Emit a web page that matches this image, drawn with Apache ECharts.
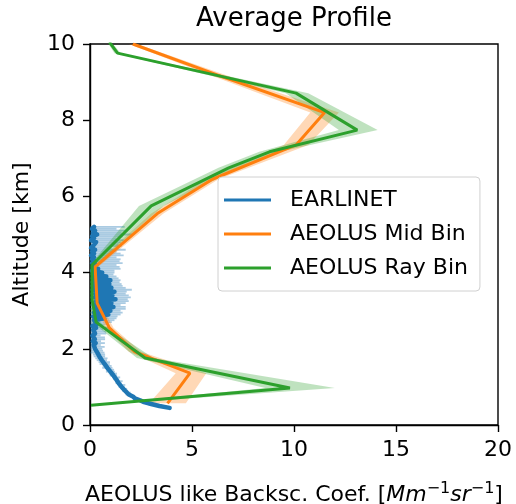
<!DOCTYPE html>
<html>
<head>
<meta charset="utf-8">
<script src="https://cdn.jsdelivr.net/npm/echarts@6/dist/echarts.min.js"></script>
<style>
  html, body { margin: 0; padding: 0; background: #fff; }
  #chart { width: 516px; height: 504px; }
</style>
</head>
<body>
<div id="chart"></div>
<script>
// EARLINET lidar profile: altitude [km], backscatter, horizontal error
const earlinetAlt = [
  0.45,0.50,0.55,0.60,0.65,0.70,0.75,0.80,0.85,0.90,0.95,1.00,1.05,1.10,1.15,1.20,
  1.25,1.30,1.35,1.40,1.45,1.50,1.55,1.60,1.65,1.70,1.75,1.80,1.85,1.90,1.95,
  2.00,2.05,2.10,2.15,2.20,2.25,2.30,2.35,2.40,2.45,2.50,2.55,2.60,2.65,2.70,
  2.75,2.80,2.85,2.90,2.95,3.00,3.05,3.10,3.15,3.20,3.25,3.30,3.35,3.40,3.45,
  3.50,3.55,3.60,3.65,3.70,3.75,3.80,3.85,3.90,3.95,4.00,4.05,
  4.10,4.15,4.20,4.25,4.30,4.35,4.40,4.45,4.50,4.55,4.60,4.65,4.70,4.75,4.80,
  4.85,4.90,4.95,5.00,5.05,5.10,5.15,5.20
];
const earlinetVal = [
  3.90,3.40,3.00,2.65,2.45,2.20,2.10,1.90,1.88,1.72,1.70,1.55,1.55,1.40,1.42,1.28,
  1.28,1.15,1.12,1.00,0.98,0.85,0.84,0.72,0.70,0.58,0.56,0.46,0.44,0.36,0.34,
  0.25,0.32,0.18,0.28,0.14,0.24,0.28,0.12,0.25,0.33,0.16,0.30,0.12,0.35,0.42,
  0.20,0.70,0.15,0.90,0.20,1.00,0.25,1.15,0.20,1.05,0.30,1.25,0.20,1.10,0.25,
  1.20,0.15,1.05,0.20,0.95,0.15,1.00,0.20,0.80,0.15,0.60,0.10,
  0.40,0.15,0.30,0.10,0.25,0.10,0.20,0.05,0.20,0.10,0.25,0.05,0.15,0.10,0.30,
  0.05,0.20,0.10,0.35,0.15,0.25,0.10,0.20
];
const earlinetErr = [
  0.10,0.10,0.12,0.10,0.12,0.10,0.12,0.15,0.12,0.15,0.12,0.15,0.18,0.15,0.18,0.15,
  0.20,0.18,0.20,0.22,0.20,0.25,0.22,0.25,0.28,0.25,0.30,0.28,0.30,0.35,0.30,
  0.35,0.40,0.35,0.45,0.40,0.50,0.45,0.40,0.55,0.45,0.50,0.60,0.55,0.50,0.65,
  1.00,0.60,1.20,0.60,1.40,0.50,1.50,0.60,1.30,0.70,1.60,0.60,1.80,0.80,1.50,
  0.60,1.90,0.70,1.40,0.60,1.30,0.50,1.20,0.50,1.00,0.60,1.10,
  1.10,1.30,1.00,1.50,1.20,1.40,1.10,1.60,1.30,1.20,1.50,1.00,1.40,1.30,1.20,
  1.60,1.10,1.50,1.70,1.40,1.60,1.20,1.50
];

// AEOLUS Mid Bin profile with spread
const midAlt = [10.0, 9.1, 8.2, 7.35, 6.45, 5.55, 4.15, 3.2, 2.55, 1.92, 1.36, 0.57];
const midVal = [2.1, 6.7, 11.5, 10.1, 6.0, 3.3, 0.25, 0.35, 0.95, 2.2, 4.9, 3.8];
const midLo  = [1.9, 6.3, 10.8, 9.5, 5.7, 3.0, 0.1, 0.2, 0.75, 1.9, 4.2, 2.9];
const midHi  = [2.3, 7.1, 12.2, 10.7, 6.3, 3.6, 0.4, 0.5, 1.15, 2.5, 5.7, 4.7];

// AEOLUS Ray Bin profile with spread
const rayAlt = [10.05, 9.76, 8.71, 7.74, 7.17, 6.75, 5.75, 4.2, 3.3, 2.7, 1.76, 0.97, 0.52];
const rayVal = [0.95, 1.35, 10.1, 13.1, 8.8, 6.8, 3.0, 0.1, 0.1, 0.3, 2.7, 9.8, 0.05];
const rayLo  = [0.85, 1.2, 9.6, 12.2, 8.3, 6.3, 2.4, 0.0, 0.0, 0.1, 2.3, 8.6, 0.0];
const rayHi  = [1.05, 1.5, 10.7, 14.1, 9.3, 7.3, 3.6, 0.3, 0.3, 0.5, 3.1, 12.0, 0.15];

const xTicks = [0, 5, 10, 15, 20];
const yTicks = [0, 2, 4, 6, 8, 10];

const C_BLUE = '#1f77b4', C_ORANGE = '#ff7f0e', C_GREEN = '#2ca02c';
const FONT = 'DejaVu Sans';

function pairs(xs, ys) { return xs.map((x, i) => [x, ys[i]]); }

// shaded spread between lo and hi along the altitude profile
function bandSeries(name, alt, lo, hi, fill) {
  return {
    name: name,
    type: 'custom',
    clip: true,
    silent: true,
    data: [[lo[0], alt[0]]],
    encode: { x: 0, y: 1 },
    renderItem: function (params, api) {
      const left = alt.map((a, i) => api.coord([lo[i], a]));
      const right = alt.map((a, i) => api.coord([hi[i], a])).reverse();
      return {
        type: 'polygon',
        shape: { points: left.concat(right) },
        style: { fill: fill, stroke: null }
      };
    }
  };
}

const errData = earlinetAlt.map((a, i) => [
  Math.max(0, earlinetVal[i] - earlinetErr[i]),
  earlinetVal[i] + earlinetErr[i],
  a
]);

const chart = echarts.init(document.getElementById('chart'), null, { renderer: 'canvas' });

chart.setOption({
  animation: false,
  backgroundColor: '#fff',
  textStyle: { fontFamily: FONT },
  grid: {
    left: 90, top: 44, width: 408, height: 381,
    containLabel: false, outerBoundsMode: 'none',
    show: true, borderColor: '#000', borderWidth: 1.4, backgroundColor: 'transparent'
  },
  graphic: [{
    type: 'text', x: 294, y: 19,
    style: {
      text: 'Average Profile', fill: '#000', font: '26px "DejaVu Sans"',
      textAlign: 'center', textVerticalAlign: 'middle'
    }
  }],
  xAxis: {
    type: 'value', min: xTicks[0], max: xTicks[xTicks.length - 1], interval: 5,
    name: '{n|AEOLUS like Backsc. Coef. [}{i|Mm}{s|−1}{i|sr}{s|−1}{n|]}',
    nameLocation: 'middle', nameGap: 56,
    nameTextStyle: {
      rich: {
        n: { fontSize: 22, color: '#000', fontFamily: FONT, lineHeight: 28 },
        i: { fontSize: 22, color: '#000', fontFamily: FONT, fontStyle: 'italic', lineHeight: 28 },
        s: { fontSize: 16, color: '#000', fontFamily: FONT, verticalAlign: 'top', lineHeight: 28, padding: [0, 0, 10, 0] }
      }
    },
    axisLine: { show: true, lineStyle: { color: '#000', width: 1.4 } },
    axisTick: { show: true, length: 7, lineStyle: { color: '#000', width: 1.4 } },
    axisLabel: { fontSize: 22, color: '#000', margin: 14, fontFamily: FONT },
    splitLine: { show: false }
  },
  yAxis: {
    type: 'value', min: yTicks[0], max: yTicks[yTicks.length - 1], interval: 2,
    name: 'Altitude [km]', nameLocation: 'middle', nameGap: 57, nameRotate: 90,
    nameTextStyle: { fontSize: 22, color: '#000', fontFamily: FONT },
    axisLine: { show: true, lineStyle: { color: '#000', width: 1.4 } },
    axisTick: { show: true, length: 7, lineStyle: { color: '#000', width: 1.4 } },
    axisLabel: { fontSize: 22, color: '#000', margin: 15, fontFamily: FONT },
    splitLine: { show: false }
  },
  legend: {
    orient: 'vertical', left: 218, top: 177,
    data: ['EARLINET', 'AEOLUS Mid Bin', 'AEOLUS Ray Bin'],
    icon: 'rect', itemWidth: 47, itemHeight: 3, itemGap: 8,
    textStyle: { fontSize: 22, color: '#000', fontFamily: FONT, padding: [0, 0, 0, 14], lineHeight: 26 },
    backgroundColor: 'rgba(255,255,255,0.85)', borderColor: '#d0d0d0', borderWidth: 1,
    borderRadius: 4, padding: [10, 12, 10, 6]
  },
  series: [
    {
      name: 'EARLINET error', type: 'custom', silent: true, clip: true,
      data: errData, encode: { x: [0, 1], y: 2 },
      renderItem: function (params, api) {
        const p1 = api.coord([api.value(0), api.value(2)]);
        const p2 = api.coord([api.value(1), api.value(2)]);
        return {
          type: 'line',
          shape: { x1: p1[0], y1: p1[1], x2: p2[0], y2: p2[1] },
          style: { stroke: 'rgba(31,119,180,0.38)', lineWidth: 1.8 }
        };
      }
    },
    {
      name: 'EARLINET', type: 'line', color: C_BLUE,
      data: pairs(earlinetVal, earlinetAlt),
      showSymbol: false, silent: true,
      lineStyle: { width: 4.5, color: C_BLUE, cap: 'round', join: 'round' }
    },
    bandSeries('Mid Bin spread', midAlt, midLo, midHi, 'rgba(255,127,14,0.3)'),
    {
      name: 'AEOLUS Mid Bin', type: 'line', color: C_ORANGE,
      data: pairs(midVal, midAlt),
      showSymbol: false, silent: true,
      lineStyle: { width: 3, color: C_ORANGE }
    },
    bandSeries('Ray Bin spread', rayAlt, rayLo, rayHi, 'rgba(44,160,44,0.3)'),
    {
      name: 'AEOLUS Ray Bin', type: 'line', color: C_GREEN,
      data: pairs(rayVal, rayAlt),
      showSymbol: false, silent: true,
      lineStyle: { width: 3, color: C_GREEN }
    }
  ]
});
</script>
</body>
</html>
